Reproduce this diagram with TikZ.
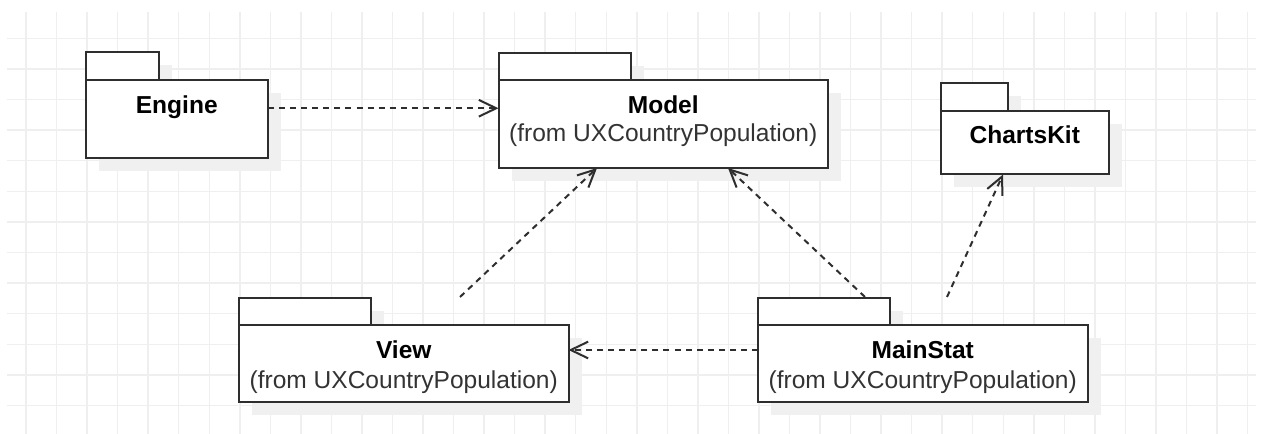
\documentclass[tikz,border=0pt]{standalone}
\usepackage{fontspec}
\setmainfont{Liberation Sans}
\usetikzlibrary{arrows.meta,calc,fit}

\definecolor{gridc}{HTML}{EFEFEF}
\definecolor{shadowc}{HTML}{F0F0F0}
\definecolor{edge}{HTML}{2E2E2E}
\definecolor{subtext}{HTML}{333333}

% UML package: shadow, tab and body
% #1 id, #2 left, #3 tab top, #4 tab right, #5 body top, #6 right, #7 bottom
\newcommand{\umlpkg}[7]{%
  \fill[pkgshadow] ({#2+13},{#3+13}) rectangle ({#4+13},{#5+13});
  \fill[pkgshadow] ({#2+13},{#5+13}) rectangle ({#6+13},{#7+13});
  \node[pkgbox,fit={(#2,#3)(#4,#5)}] (#1-tab) {};
  \node[pkgbox,fit={(#2,#5)(#6,#7)}] (#1) {};
}

\begin{document}
\begin{tikzpicture}[x=0.75pt,y=-0.75pt,
  gridline/.style={draw=gridc,line width=1.1pt},
  pkgshadow/.style={fill=shadowc},
  pkgbox/.style={draw=edge,fill=white,line width=1.5pt,inner sep=0pt,outer sep=0pt},
  pkgname/.style={anchor=base,font=\fontsize{18.4}{22}\selectfont\bfseries,text=black,inner sep=0pt},
  pkgfrom/.style={anchor=base,font=\fontsize{18.4}{22}\selectfont,text=subtext,inner sep=0pt},
  dep/.style={draw=edge,line width=1.5pt,dash pattern=on 4.5pt off 3.8pt,
    -{Straight Barb[length=13pt,width=12.5pt]}}
]
\fill[white] (0,0) rectangle (1263,434);
\useasboundingbox (0,0) rectangle (1263,434);

% background grid
\foreach \k in {0,...,40}
  \draw[gridline] ({26+30.54*\k},12) -- ({26+30.54*\k},434);
\foreach \k in {0,...,12}
  \draw[gridline] (7,{38.3+30.6*\k}) -- (1256,{38.3+30.6*\k});

% packages
\umlpkg{engine}{85.5}{52.5}{159}{80}{268}{158.5}
\umlpkg{model}{498.5}{53}{631}{80}{828}{168}
\umlpkg{chartskit}{941}{83.5}{1008}{111}{1108.5}{174.5}
\umlpkg{view}{239}{298.5}{371}{325}{568.5}{402}
\umlpkg{mainstat}{758}{298.5}{890}{325}{1087.5}{402}

% package labels
\node[pkgname] (engine-name) at ($(engine.north)+(0,33.3)$) {Engine};
\node[pkgname] (model-name) at ($(model.north)+(0,33.3)$) {Model};
\node[pkgfrom] (model-from) at ($(model.north)+(0,62)$) {(from UXCountryPopulation)};
\node[pkgname] (chartskit-name) at ($(chartskit.north)+(0,32.6)$) {ChartsKit};
\node[pkgname] (view-name) at ($(view.north)+(0,33.3)$) {View};
\node[pkgfrom] (view-from) at ($(view.north)+(0,63)$) {(from UXCountryPopulation)};
\node[pkgname] (mainstat-name) at ($(mainstat.north)+(0,33.3)$) {MainStat};
\node[pkgfrom] (mainstat-from) at ($(mainstat.north)+(0,63)$) {(from UXCountryPopulation)};

% connector end points
\coordinate (e2m) at ($(engine.east)+(0,-11)$);
\coordinate (view-out) at ($(view.north west)+(221,-28)$);
\coordinate (model-in1) at ($(model.south west)+(98.5,0)$);
\coordinate (ms-out1) at ($(mainstat.north west)+(107,-28)$);
\coordinate (model-in2) at ($(model.south west)+(229.5,0)$);
\coordinate (ms-out2) at ($(mainstat.north west)+(189,-28)$);
\coordinate (charts-in) at ($(chartskit.south west)+(62,0)$);
\coordinate (m2v) at ($(mainstat.west)+(0,-13.5)$);

% dependencies
\draw[dep] (e2m) -- (model.west |- e2m);
\draw[dep] (view-out) -- (model-in1);
\draw[dep] (ms-out1) -- (model-in2);
\draw[dep] (ms-out2) -- (charts-in);
\draw[dep] (m2v) -- (view.east |- m2v);
\end{tikzpicture}
\end{document}
